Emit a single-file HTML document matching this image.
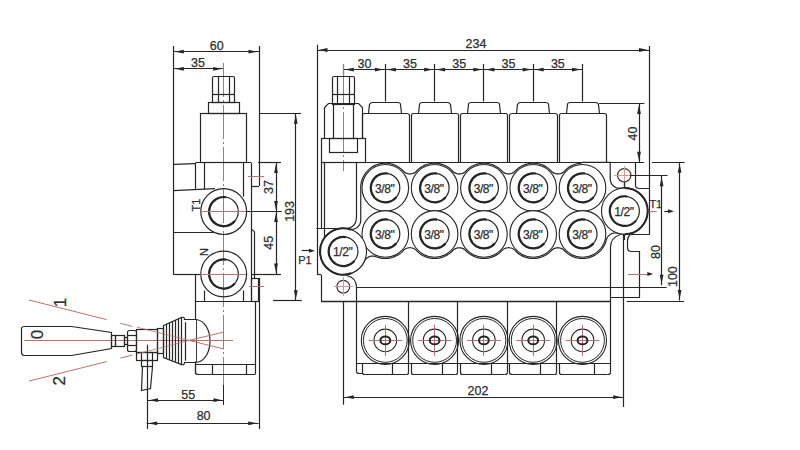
<!DOCTYPE html>
<html><head><meta charset="utf-8"><style>
html,body{margin:0;padding:0;background:#fff;}
svg{display:block;}
text{font-family:"Liberation Sans", sans-serif;stroke:#2e2e2e;stroke-width:0.25px;}
</style></head><body>
<svg width="800" height="450" viewBox="0 0 800 450">
<rect x="0" y="0" width="800" height="450" fill="#fff"/>
<line x1="173.50" y1="46.00" x2="173.50" y2="274.40" stroke="#262626" stroke-width="1.2" />
<line x1="259.50" y1="46.00" x2="259.50" y2="186.00" stroke="#262626" stroke-width="1.2" />
<line x1="259.50" y1="278.00" x2="259.50" y2="429.00" stroke="#262626" stroke-width="1.2" />
<line x1="173.30" y1="51.50" x2="259.00" y2="51.50" stroke="#262626" stroke-width="1.2" />
<path d="M174.80,51.70 L183.80,49.80 L183.80,53.60 Z" fill="#262626"/>
<path d="M257.50,51.70 L248.50,53.60 L248.50,49.80 Z" fill="#262626"/>
<text x="216.70" y="49.60" font-size="12.5" text-anchor="middle" fill="#2e2e2e">60</text>
<line x1="173.30" y1="68.50" x2="223.70" y2="68.50" stroke="#262626" stroke-width="1.2" />
<path d="M174.80,68.80 L183.80,66.90 L183.80,70.70 Z" fill="#262626"/>
<path d="M222.20,68.80 L213.20,70.70 L213.20,66.90 Z" fill="#262626"/>
<text x="198.00" y="66.80" font-size="12.5" text-anchor="middle" fill="#2e2e2e">35</text>
<line x1="223.50" y1="63.00" x2="223.50" y2="395.00" stroke="#b87272" stroke-width="1.0" stroke-dasharray="34 3 2 3"/>
<line x1="223.50" y1="385.00" x2="223.50" y2="405.00" stroke="#262626" stroke-width="1.0" />
<rect x="212.50" y="76.50" width="22.00" height="18.00" rx="1.5" stroke="#262626" stroke-width="1.2" fill="none"/>
<rect x="212.50" y="94.50" width="22.00" height="8.00" rx="0" stroke="#262626" stroke-width="1.2" fill="none"/>
<line x1="218.50" y1="76.00" x2="218.50" y2="102.00" stroke="#262626" stroke-width="1.2" />
<line x1="229.50" y1="76.00" x2="229.50" y2="102.00" stroke="#262626" stroke-width="1.2" />
<rect x="208.50" y="102.50" width="31.00" height="11.00" rx="0" stroke="#262626" stroke-width="1.2" fill="none"/>
<rect x="200.50" y="113.50" width="46.00" height="49.00" rx="0" stroke="#262626" stroke-width="1.2" fill="none"/>
<line x1="259.00" y1="113.50" x2="301.00" y2="113.50" stroke="#262626" stroke-width="1.2" />
<line x1="295.50" y1="113.30" x2="295.50" y2="300.70" stroke="#262626" stroke-width="1.2" />
<path d="M295.80,114.80 L297.70,123.80 L293.90,123.80 Z" fill="#262626"/>
<path d="M295.80,299.20 L293.90,290.20 L297.70,290.20 Z" fill="#262626"/>
<text x="289.20" y="215.86" font-size="12.5" text-anchor="middle" fill="#2e2e2e" transform="rotate(-90 289.20 211.40)">193</text>
<line x1="273.00" y1="300.50" x2="301.70" y2="300.50" stroke="#262626" stroke-width="1.2" />
<line x1="195.60" y1="162.50" x2="251.00" y2="162.50" stroke="#262626" stroke-width="1.2" />
<line x1="173.30" y1="164.40" x2="195.60" y2="163.70" stroke="#262626" stroke-width="1.2" />
<line x1="173.30" y1="190.60" x2="215.00" y2="188.60" stroke="#262626" stroke-width="1.2" />
<line x1="195.50" y1="162.60" x2="195.50" y2="189.40" stroke="#262626" stroke-width="1.2" />
<line x1="204.50" y1="162.60" x2="204.50" y2="189.40" stroke="#262626" stroke-width="1.2" />
<line x1="243.50" y1="162.60" x2="243.50" y2="196.70" stroke="#262626" stroke-width="1.2" />
<line x1="251.50" y1="162.60" x2="251.50" y2="301.40" stroke="#262626" stroke-width="1.2" />
<line x1="251.00" y1="186.50" x2="259.00" y2="186.50" stroke="#262626" stroke-width="1.2" />
<line x1="248.00" y1="176.50" x2="264.00" y2="176.50" stroke="#b87272" stroke-width="1.0" />
<circle cx="223.70" cy="211.60" r="22.90" stroke="#262626" stroke-width="1.2" fill="none"/>
<circle cx="223.70" cy="211.60" r="14.60" stroke="#262626" stroke-width="1.2" fill="none"/>
<path d="M226.24,197.22 A14.6,14.6 0 1 0 234.88,220.98" stroke="#262626" stroke-width="2.2" fill="none"/>
<line x1="202.00" y1="211.50" x2="246.00" y2="211.50" stroke="#b87272" stroke-width="1.0" />
<line x1="246.60" y1="211.50" x2="281.70" y2="211.50" stroke="#262626" stroke-width="1.2" />
<text x="196.50" y="208.93" font-size="11" text-anchor="middle" fill="#2e2e2e" transform="rotate(-90 196.50 205.00)">T1</text>
<line x1="173.30" y1="232.50" x2="214.00" y2="232.50" stroke="#262626" stroke-width="1.2" />
<line x1="173.30" y1="274.50" x2="200.00" y2="274.50" stroke="#262626" stroke-width="1.2" />
<line x1="251.00" y1="229.30" x2="254.20" y2="231.30" stroke="#262626" stroke-width="1.2" />
<line x1="254.50" y1="231.30" x2="254.50" y2="278.00" stroke="#262626" stroke-width="1.2" />
<line x1="258.00" y1="162.50" x2="281.00" y2="162.50" stroke="#262626" stroke-width="1.2" />
<line x1="251.00" y1="274.50" x2="281.00" y2="274.50" stroke="#262626" stroke-width="1.2" />
<line x1="276.50" y1="162.60" x2="276.50" y2="274.00" stroke="#262626" stroke-width="1.2" />
<path d="M276.00,164.10 L277.90,173.10 L274.10,173.10 Z" fill="#262626"/>
<path d="M276.00,210.10 L274.10,201.10 L277.90,201.10 Z" fill="#262626"/>
<path d="M276.00,213.10 L277.90,222.10 L274.10,222.10 Z" fill="#262626"/>
<path d="M276.00,272.50 L274.10,263.50 L277.90,263.50 Z" fill="#262626"/>
<text x="269.00" y="191.46" font-size="12.5" text-anchor="middle" fill="#2e2e2e" transform="rotate(-90 269.00 187.00)">37</text>
<text x="269.00" y="247.16" font-size="12.5" text-anchor="middle" fill="#2e2e2e" transform="rotate(-90 269.00 242.70)">45</text>
<circle cx="223.70" cy="274.00" r="22.90" stroke="#262626" stroke-width="1.2" fill="none"/>
<circle cx="223.70" cy="274.00" r="14.60" stroke="#262626" stroke-width="1.2" fill="none"/>
<path d="M226.24,259.62 A14.6,14.6 0 1 0 234.88,283.38" stroke="#262626" stroke-width="2.2" fill="none"/>
<line x1="202.00" y1="274.50" x2="246.00" y2="274.50" stroke="#b87272" stroke-width="1.0" />
<text x="204.50" y="255.93" font-size="11" text-anchor="middle" fill="#2e2e2e" transform="rotate(-90 204.50 252.00)">N</text>
<line x1="195.50" y1="274.40" x2="195.50" y2="319.50" stroke="#262626" stroke-width="1.2" />
<line x1="204.50" y1="290.50" x2="204.50" y2="301.40" stroke="#262626" stroke-width="1.2" />
<line x1="243.50" y1="290.50" x2="243.50" y2="301.40" stroke="#262626" stroke-width="1.2" />
<rect x="251.50" y="278.50" width="7.00" height="23.00" rx="0" stroke="#262626" stroke-width="1.2" fill="none"/>
<line x1="249.00" y1="286.50" x2="264.00" y2="286.50" stroke="#b87272" stroke-width="1.0" />
<line x1="195.60" y1="301.50" x2="255.80" y2="301.50" stroke="#262626" stroke-width="1.2" />
<line x1="195.50" y1="361.50" x2="195.50" y2="374.00" stroke="#262626" stroke-width="1.2" />
<line x1="255.50" y1="301.40" x2="255.50" y2="374.00" stroke="#262626" stroke-width="1.2" />
<line x1="195.60" y1="364.50" x2="255.80" y2="364.50" stroke="#262626" stroke-width="1.2" />
<path d="M195.5,364.5 L195.5,372.5 Q195.5,374.5 198.5,374.5 L255.5,374.5" stroke="#262626" stroke-width="1.2" fill="none"/>
<line x1="212.50" y1="364.00" x2="212.50" y2="374.50" stroke="#262626" stroke-width="1.2" />
<line x1="246.50" y1="364.00" x2="246.50" y2="374.50" stroke="#262626" stroke-width="1.2" />
<path d="M196.5,319.5 C214.5,322.5 214.5,359.5 196.5,362.5" stroke="#262626" stroke-width="1.2" fill="none"/>
<line x1="196.50" y1="319.50" x2="196.50" y2="362.00" stroke="#262626" stroke-width="0.9" />
<line x1="24.00" y1="340.50" x2="233.00" y2="340.50" stroke="#b87272" stroke-width="1.0" />
<path d="M24.5,326.5 L71.5,326.5 L111.5,332.5 L111.5,348.5 L71.5,355.5 L24.5,355.5 Q21.5,355.5 21.5,352.5 L21.5,328.5 Q21.5,326.5 24.5,326.5 Z" stroke="#262626" stroke-width="1.2" fill="none"/>
<rect x="111.50" y="335.50" width="4.00" height="11.00" rx="0" stroke="#262626" stroke-width="1.2" fill="none"/>
<rect x="115.50" y="335.50" width="9.00" height="11.00" rx="0" stroke="#262626" stroke-width="1.2" fill="none"/>
<rect x="124.50" y="337.50" width="3.00" height="7.00" rx="0" stroke="#262626" stroke-width="1.2" fill="none"/>
<rect x="127.50" y="330.50" width="9.00" height="21.00" rx="2" stroke="#262626" stroke-width="1.2" fill="none"/>
<line x1="127.30" y1="335.50" x2="136.50" y2="335.50" stroke="#262626" stroke-width="1.2" />
<line x1="127.30" y1="345.50" x2="136.50" y2="345.50" stroke="#262626" stroke-width="1.2" />
<rect x="136.50" y="329.50" width="21.00" height="23.00" rx="0" stroke="#262626" stroke-width="1.2" fill="none"/>
<rect x="157.50" y="328.50" width="6.00" height="25.00" rx="0" stroke="#262626" stroke-width="1.2" fill="none"/>
<path d="M163.50,325.50 L181.50,317.50 L181.50,364.50 L163.50,357.50 Z" stroke="#262626" stroke-width="1.2" fill="none"/>
<line x1="166.50" y1="323.88" x2="166.50" y2="358.20" stroke="#262626" stroke-width="1.2" />
<line x1="169.50" y1="322.57" x2="169.50" y2="359.40" stroke="#262626" stroke-width="1.2" />
<line x1="172.50" y1="321.25" x2="172.50" y2="360.60" stroke="#262626" stroke-width="1.2" />
<line x1="175.50" y1="319.93" x2="175.50" y2="361.80" stroke="#262626" stroke-width="1.2" />
<line x1="178.50" y1="318.62" x2="178.50" y2="363.00" stroke="#262626" stroke-width="1.2" />
<path d="M181.5,317.5 Q184.5,316.5 184.5,319.5 L196.5,319.5" stroke="#262626" stroke-width="1.2" fill="none"/>
<path d="M181.5,364.5 Q184.5,365.5 184.5,362.5 L196.5,362.5" stroke="#262626" stroke-width="1.2" fill="none"/>
<line x1="185.50" y1="322.30" x2="185.50" y2="360.60" stroke="#262626" stroke-width="1.2" />
<rect x="136.50" y="352.50" width="21.00" height="8.00" rx="0" stroke="#262626" stroke-width="1.2" fill="none"/>
<line x1="141.50" y1="352.70" x2="141.50" y2="360.20" stroke="#262626" stroke-width="1.2" />
<line x1="152.50" y1="352.70" x2="152.50" y2="360.20" stroke="#262626" stroke-width="1.2" />
<rect x="141.50" y="360.50" width="11.00" height="6.00" rx="0" stroke="#262626" stroke-width="1.2" fill="none"/>
<path d="M142.50,366.50 L141.50,390.50 L150.50,388.50 L152.50,366.50" stroke="#262626" stroke-width="1.2" fill="none"/>
<line x1="147.50" y1="344.70" x2="147.50" y2="366.00" stroke="#262626" stroke-width="1.2" />
<line x1="28.90" y1="300.00" x2="106.70" y2="319.60" stroke="#b87272" stroke-width="1.0" />
<line x1="28.90" y1="381.10" x2="106.70" y2="361.60" stroke="#b87272" stroke-width="1.0" />
<line x1="120.30" y1="323.30" x2="132.30" y2="326.40" stroke="#b87272" stroke-width="1.0" />
<line x1="120.30" y1="358.10" x2="132.30" y2="355.10" stroke="#b87272" stroke-width="1.0" />
<line x1="137.00" y1="327.20" x2="189.00" y2="340.40" stroke="#b87272" stroke-width="0.8" />
<line x1="137.00" y1="354.00" x2="189.00" y2="340.40" stroke="#b87272" stroke-width="0.8" />
<line x1="189.00" y1="340.40" x2="224.00" y2="332.00" stroke="#b87272" stroke-width="1.0" />
<line x1="189.00" y1="340.40" x2="224.00" y2="349.00" stroke="#b87272" stroke-width="1.0" />
<text x="36.90" y="340.47" font-size="17" text-anchor="middle" fill="#2e2e2e" transform="rotate(-90 36.90 334.40)">0</text>
<text x="59.70" y="308.57" font-size="17" text-anchor="middle" fill="#2e2e2e" transform="rotate(-90 59.70 302.50)">1</text>
<text x="59.20" y="386.77" font-size="17" text-anchor="middle" fill="#2e2e2e" transform="rotate(-90 59.20 380.70)">2</text>
<line x1="147.50" y1="366.00" x2="147.50" y2="429.00" stroke="#262626" stroke-width="1.2" />
<line x1="147.50" y1="400.50" x2="224.00" y2="400.50" stroke="#262626" stroke-width="1.2" />
<path d="M149.00,400.20 L158.00,398.30 L158.00,402.10 Z" fill="#262626"/>
<path d="M222.50,400.20 L213.50,402.10 L213.50,398.30 Z" fill="#262626"/>
<text x="188.30" y="398.60" font-size="12.5" text-anchor="middle" fill="#2e2e2e">55</text>
<line x1="146.70" y1="423.50" x2="258.70" y2="423.50" stroke="#262626" stroke-width="1.2" />
<path d="M148.20,423.30 L157.20,421.40 L157.20,425.20 Z" fill="#262626"/>
<path d="M257.20,423.30 L248.20,425.20 L248.20,421.40 Z" fill="#262626"/>
<text x="203.60" y="420.00" font-size="12.5" text-anchor="middle" fill="#2e2e2e">80</text>
<line x1="317.50" y1="44.70" x2="317.50" y2="274.70" stroke="#262626" stroke-width="1.2" />
<line x1="649.50" y1="46.00" x2="649.50" y2="188.30" stroke="#262626" stroke-width="1.2" />
<line x1="317.00" y1="50.50" x2="649.50" y2="50.50" stroke="#262626" stroke-width="1.2" />
<path d="M318.50,50.00 L327.50,48.10 L327.50,51.90 Z" fill="#262626"/>
<path d="M648.00,50.00 L639.00,51.90 L639.00,48.10 Z" fill="#262626"/>
<text x="476.00" y="48.00" font-size="12.5" text-anchor="middle" fill="#2e2e2e">234</text>
<line x1="343.30" y1="69.50" x2="582.10" y2="69.50" stroke="#262626" stroke-width="1.2" />
<line x1="343.50" y1="64.00" x2="343.50" y2="76.00" stroke="#262626" stroke-width="1.2" />
<path d="M344.80,69.60 L353.80,67.70 L353.80,71.50 Z" fill="#262626"/>
<line x1="385.50" y1="64.00" x2="385.50" y2="101.50" stroke="#262626" stroke-width="1.2" />
<path d="M383.80,69.60 L374.80,71.50 L374.80,67.70 Z" fill="#262626"/>
<path d="M386.80,69.60 L395.80,67.70 L395.80,71.50 Z" fill="#262626"/>
<line x1="434.50" y1="64.00" x2="434.50" y2="101.50" stroke="#262626" stroke-width="1.2" />
<path d="M433.10,69.60 L424.10,71.50 L424.10,67.70 Z" fill="#262626"/>
<path d="M436.10,69.60 L445.10,67.70 L445.10,71.50 Z" fill="#262626"/>
<line x1="483.50" y1="64.00" x2="483.50" y2="101.50" stroke="#262626" stroke-width="1.2" />
<path d="M482.40,69.60 L473.40,71.50 L473.40,67.70 Z" fill="#262626"/>
<path d="M485.40,69.60 L494.40,67.70 L494.40,71.50 Z" fill="#262626"/>
<line x1="533.50" y1="64.00" x2="533.50" y2="101.50" stroke="#262626" stroke-width="1.2" />
<path d="M531.70,69.60 L522.70,71.50 L522.70,67.70 Z" fill="#262626"/>
<path d="M534.70,69.60 L543.70,67.70 L543.70,71.50 Z" fill="#262626"/>
<line x1="582.50" y1="64.00" x2="582.50" y2="101.50" stroke="#262626" stroke-width="1.2" />
<path d="M581.00,69.60 L572.00,71.50 L572.00,67.70 Z" fill="#262626"/>
<text x="364.50" y="67.70" font-size="12.5" text-anchor="middle" fill="#2e2e2e">30</text>
<text x="409.95" y="67.70" font-size="12.5" text-anchor="middle" fill="#2e2e2e">35</text>
<text x="459.25" y="67.70" font-size="12.5" text-anchor="middle" fill="#2e2e2e">35</text>
<text x="508.55" y="67.70" font-size="12.5" text-anchor="middle" fill="#2e2e2e">35</text>
<text x="557.85" y="67.70" font-size="12.5" text-anchor="middle" fill="#2e2e2e">35</text>
<line x1="343.50" y1="64.00" x2="343.50" y2="171.00" stroke="#b87272" stroke-width="1.0" stroke-dasharray="40 3 2 3"/>
<rect x="332.50" y="76.50" width="22.00" height="18.00" rx="1.5" stroke="#262626" stroke-width="1.2" fill="none"/>
<rect x="332.50" y="94.50" width="22.00" height="10.00" rx="0" stroke="#262626" stroke-width="1.2" fill="none"/>
<line x1="337.50" y1="76.00" x2="337.50" y2="104.20" stroke="#262626" stroke-width="1.2" />
<line x1="349.50" y1="76.00" x2="349.50" y2="104.20" stroke="#262626" stroke-width="1.2" />
<path d="M324.50,138.50 L324.50,107.50 L328.50,103.50 L358.50,103.50 L362.50,107.50 L362.50,138.50" stroke="#262626" stroke-width="1.2" fill="none"/>
<line x1="333.50" y1="104.00" x2="333.50" y2="138.00" stroke="#262626" stroke-width="1.2" />
<line x1="353.50" y1="104.00" x2="353.50" y2="138.00" stroke="#262626" stroke-width="1.2" />
<rect x="321.50" y="138.50" width="44.00" height="24.00" rx="0" stroke="#262626" stroke-width="1.2" fill="none"/>
<rect x="329.50" y="138.50" width="28.00" height="14.00" rx="0" stroke="#262626" stroke-width="1.2" fill="none"/>
<path d="M368.5,113.5 L369.5,104.5 Q370.5,102.5 372.5,102.5 L397.5,102.5 Q400.5,102.5 400.5,104.5 L401.5,113.5" stroke="#262626" stroke-width="1.2" fill="none"/>
<path d="M362.5,138.5 L362.5,115.5 Q362.5,113.5 364.5,113.5 L406.5,113.5 Q409.5,113.5 409.5,115.5 L409.5,162.5" stroke="#262626" stroke-width="1.2" fill="none"/>
<path d="M418.5,113.5 L419.5,104.5 Q419.5,102.5 422.5,102.5 L447.5,102.5 Q449.5,102.5 450.5,104.5 L451.5,113.5" stroke="#262626" stroke-width="1.2" fill="none"/>
<path d="M411.5,162.5 L411.5,115.5 Q411.5,113.5 413.5,113.5 L456.5,113.5 Q458.5,113.5 458.5,115.5 L458.5,162.5" stroke="#262626" stroke-width="1.2" fill="none"/>
<path d="M467.5,113.5 L468.5,104.5 Q468.5,102.5 471.5,102.5 L496.5,102.5 Q499.5,102.5 499.5,104.5 L500.5,113.5" stroke="#262626" stroke-width="1.2" fill="none"/>
<path d="M460.5,162.5 L460.5,115.5 Q460.5,113.5 462.5,113.5 L505.5,113.5 Q507.5,113.5 507.5,115.5 L507.5,162.5" stroke="#262626" stroke-width="1.2" fill="none"/>
<path d="M516.5,113.5 L517.5,104.5 Q518.5,102.5 520.5,102.5 L545.5,102.5 Q548.5,102.5 548.5,104.5 L549.5,113.5" stroke="#262626" stroke-width="1.2" fill="none"/>
<path d="M509.5,162.5 L509.5,115.5 Q509.5,113.5 512.5,113.5 L554.5,113.5 Q557.5,113.5 557.5,115.5 L557.5,162.5" stroke="#262626" stroke-width="1.2" fill="none"/>
<path d="M566.5,113.5 L567.5,104.5 Q567.5,102.5 570.5,102.5 L595.5,102.5 Q597.5,102.5 598.5,104.5 L599.5,113.5" stroke="#262626" stroke-width="1.2" fill="none"/>
<path d="M559.5,162.5 L559.5,115.5 Q559.5,113.5 561.5,113.5 L604.5,113.5 Q606.5,113.5 606.5,115.5 L606.5,162.5" stroke="#262626" stroke-width="1.2" fill="none"/>
<line x1="599.00" y1="103.50" x2="644.50" y2="103.50" stroke="#262626" stroke-width="1.2" />
<line x1="639.50" y1="103.60" x2="639.50" y2="162.30" stroke="#262626" stroke-width="1.2" />
<path d="M639.00,105.10 L640.90,114.10 L637.10,114.10 Z" fill="#262626"/>
<path d="M639.00,160.80 L637.10,151.80 L640.90,151.80 Z" fill="#262626"/>
<text x="632.30" y="138.06" font-size="12.5" text-anchor="middle" fill="#2e2e2e" transform="rotate(-90 632.30 133.60)">40</text>
<line x1="321.00" y1="162.50" x2="644.20" y2="162.50" stroke="#262626" stroke-width="1.2" />
<line x1="652.00" y1="162.50" x2="684.70" y2="162.50" stroke="#262626" stroke-width="1.2" />
<line x1="321.50" y1="162.30" x2="321.50" y2="228.90" stroke="#262626" stroke-width="1.2" />
<line x1="324.50" y1="162.30" x2="324.50" y2="237.50" stroke="#262626" stroke-width="1.2" />
<path d="M356.5,162.5 L356.5,216.5 Q356.5,228.5 344.5,228.5 L316.5,228.5" stroke="#262626" stroke-width="1.2" fill="none"/>
<line x1="317.00" y1="274.50" x2="321.00" y2="274.50" stroke="#262626" stroke-width="1.2" />
<line x1="321.50" y1="274.70" x2="321.50" y2="301.00" stroke="#262626" stroke-width="1.2" />
<line x1="321.00" y1="301.50" x2="610.40" y2="301.50" stroke="#262626" stroke-width="1.5" />
<line x1="626.70" y1="301.50" x2="684.00" y2="301.50" stroke="#262626" stroke-width="1.2" />
<circle cx="343.30" cy="286.70" r="6.40" stroke="#4a2c2c" stroke-width="1.2" fill="none"/>
<line x1="334.00" y1="286.50" x2="353.00" y2="286.50" stroke="#cf9a9a" stroke-width="1.0" />
<line x1="343.50" y1="277.00" x2="343.50" y2="296.00" stroke="#cf9a9a" stroke-width="1.0" />
<line x1="343.50" y1="301.00" x2="343.50" y2="404.70" stroke="#262626" stroke-width="1.2" />
<line x1="343.30" y1="397.50" x2="623.70" y2="397.50" stroke="#262626" stroke-width="1.2" />
<path d="M344.80,397.20 L353.80,395.30 L353.80,399.10 Z" fill="#262626"/>
<path d="M622.20,397.20 L613.20,399.10 L613.20,395.30 Z" fill="#262626"/>
<text x="478.00" y="394.50" font-size="12.5" text-anchor="middle" fill="#2e2e2e">202</text>
<path d="M346.5,275.5 Q356.5,277.5 356.5,287.5" stroke="#262626" stroke-width="1.2" fill="none"/>
<line x1="356.80" y1="287.50" x2="666.70" y2="287.50" stroke="#262626" stroke-width="1.2" />
<path d="M635.5,162.5 L635.5,185.5 Q635.5,188.5 639.5,188.5 L649.5,188.5 L649.5,234.5 L630.5,234.5" stroke="#262626" stroke-width="1.2" fill="none"/>
<path d="M630.5,234.5 Q627.5,236.5 627.5,240.5 L627.5,247.5 Q627.5,251.5 631.5,251.5 L639.5,251.5 L639.5,297.5 L610.5,297.5" stroke="#262626" stroke-width="1.2" fill="none"/>
<path d="M610.5,287.5 L610.5,247.5 Q610.5,237.5 620.5,234.5" stroke="#262626" stroke-width="1.2" fill="none"/>
<line x1="623.50" y1="234.00" x2="623.50" y2="407.00" stroke="#262626" stroke-width="1.2" />
<circle cx="624.20" cy="175.30" r="6.70" stroke="#4a2c2c" stroke-width="1.2" fill="none"/>
<line x1="614.00" y1="175.50" x2="634.00" y2="175.50" stroke="#cf9a9a" stroke-width="1.0" />
<line x1="624.50" y1="166.00" x2="624.50" y2="185.00" stroke="#cf9a9a" stroke-width="1.0" />
<line x1="624.50" y1="182.00" x2="624.50" y2="189.00" stroke="#262626" stroke-width="1.2" />
<line x1="630.00" y1="175.50" x2="667.50" y2="175.50" stroke="#262626" stroke-width="1.2" />
<line x1="661.50" y1="175.80" x2="661.50" y2="285.30" stroke="#262626" stroke-width="1.2" />
<path d="M661.60,177.30 L663.50,186.30 L659.70,186.30 Z" fill="#262626"/>
<path d="M661.60,283.80 L659.70,274.80 L663.50,274.80 Z" fill="#262626"/>
<text x="656.00" y="256.46" font-size="12.5" text-anchor="middle" fill="#2e2e2e" transform="rotate(-90 656.00 252.00)">80</text>
<line x1="679.50" y1="162.30" x2="679.50" y2="300.50" stroke="#262626" stroke-width="1.2" />
<path d="M679.60,163.80 L681.50,172.80 L677.70,172.80 Z" fill="#262626"/>
<path d="M679.60,299.00 L677.70,290.00 L681.50,290.00 Z" fill="#262626"/>
<text x="672.80" y="281.06" font-size="12.5" text-anchor="middle" fill="#2e2e2e" transform="rotate(-90 672.80 276.60)">100</text>
<text x="655.80" y="207.50" font-size="11" text-anchor="middle" fill="#2e2e2e">T1</text>
<line x1="630.00" y1="211.50" x2="656.70" y2="211.50" stroke="#b87272" stroke-width="1.0" />
<line x1="664.30" y1="211.50" x2="668.00" y2="211.50" stroke="#262626" stroke-width="1.2" />
<path d="M674.00,211.30 L668.00,213.30 L668.00,209.30 Z" fill="#262626"/>
<line x1="628.00" y1="274.50" x2="647.50" y2="274.50" stroke="#b87272" stroke-width="1.0" />
<path d="M653.30,274.00 L647.30,276.00 L647.30,272.00 Z" fill="#262626"/>
<line x1="301.70" y1="250.50" x2="309.00" y2="250.50" stroke="#262626" stroke-width="1.2" />
<path d="M315.00,250.70 L309.00,252.70 L309.00,248.70 Z" fill="#262626"/>
<text x="305.00" y="264.00" font-size="11" text-anchor="middle" fill="#2e2e2e">P1</text>
<path d="M343.94,274.75 L340.81,274.62 L340.69,274.50 L339.94,274.50 L339.81,274.38 L339.19,274.38 L339.06,274.25 L337.94,274.12 L337.81,274.00 L337.44,274.00 L336.94,273.75 L336.56,273.75 L336.44,273.62 L335.06,273.25 L333.56,272.50 L333.31,272.50 L332.56,272.12 L332.31,271.88 L331.44,271.50 L328.44,269.38 L326.50,267.56 L326.50,267.44 L325.00,265.81 L323.50,263.69 L322.00,260.81 L322.00,260.56 L321.50,259.56 L321.12,258.19 L321.00,258.06 L321.00,257.69 L320.62,256.69 L320.50,255.56 L320.38,255.44 L320.25,253.56 L320.12,253.44 L320.12,249.56 L320.25,249.44 L320.38,247.56 L320.50,247.44 L320.50,246.94 L320.62,246.81 L320.62,246.31 L321.00,245.31 L321.00,244.94 L321.12,244.81 L321.50,243.44 L322.00,242.44 L322.00,242.19 L323.12,239.94 L323.38,239.69 L323.50,239.31 L324.25,238.19 L325.50,236.69 L325.50,236.56 L326.88,235.06 L328.44,233.62 L328.56,233.62 L329.56,232.75 L331.44,231.50 L332.31,231.12 L332.56,230.88 L333.31,230.50 L333.56,230.50 L334.44,230.00 L334.69,230.00 L335.06,229.75 L335.69,229.62 L336.56,229.25 L336.94,229.25 L337.94,228.88 L339.06,228.75 L339.19,228.62 L340.69,228.50 L340.81,228.38 L342.44,228.38 L342.56,228.25 L345.81,228.38 L345.94,228.50 L346.69,228.50 L346.81,228.62 L347.44,228.62 L347.56,228.75 L348.69,228.88 L348.81,229.00 L349.81,229.12 L349.94,229.25 L351.19,229.25 L351.31,229.38 L353.69,229.12 L353.81,229.00 L354.19,229.00 L354.31,228.88 L354.94,228.75 L356.81,227.75 L357.44,227.25 L359.12,225.44 L360.12,223.56 L360.12,223.31 L360.38,222.81 L360.50,221.81 L360.62,221.69 L360.62,220.44 L360.75,220.31 L360.75,185.56 L360.88,185.44 L360.88,184.44 L361.00,184.31 L361.12,182.94 L361.25,182.81 L361.62,180.94 L362.12,179.69 L362.25,179.06 L363.62,176.06 L363.88,175.81 L364.12,175.19 L365.38,173.31 L365.75,172.94 L366.12,172.31 L366.88,171.56 L366.88,171.44 L369.81,168.62 L372.69,166.62 L375.06,165.38 L375.31,165.38 L375.94,165.00 L376.19,165.00 L376.56,164.75 L376.81,164.75 L378.44,164.12 L378.81,164.12 L378.94,164.00 L379.31,164.00 L379.44,163.88 L379.81,163.88 L380.44,163.62 L381.06,163.62 L381.19,163.50 L381.81,163.50 L381.94,163.38 L382.94,163.38 L383.06,163.25 L387.56,163.25 L387.69,163.38 L388.69,163.38 L388.81,163.50 L389.44,163.50 L389.56,163.62 L390.69,163.75 L390.81,163.88 L392.19,164.12 L393.44,164.62 L393.69,164.62 L394.06,164.88 L394.69,165.00 L395.56,165.50 L395.81,165.50 L396.81,166.00 L397.06,166.25 L397.69,166.50 L399.81,167.88 L400.81,168.75 L400.94,168.75 L401.81,169.62 L401.94,169.62 L404.31,172.00 L405.19,172.62 L406.69,173.38 L407.31,173.50 L407.44,173.62 L408.44,173.75 L408.56,173.88 L409.81,173.88 L409.94,174.00 L410.06,173.88 L411.31,173.88 L411.44,173.75 L412.44,173.62 L412.56,173.50 L413.19,173.38 L414.69,172.62 L415.56,172.00 L418.81,168.88 L418.94,168.88 L420.44,167.62 L421.56,167.00 L422.19,166.50 L424.94,165.12 L425.19,165.12 L426.19,164.62 L426.44,164.62 L427.31,164.25 L427.69,164.25 L428.19,164.00 L429.06,163.88 L429.19,163.75 L429.69,163.75 L429.81,163.62 L430.31,163.62 L430.44,163.50 L431.19,163.50 L431.31,163.38 L432.19,163.38 L432.31,163.25 L436.94,163.25 L437.06,163.38 L437.94,163.38 L438.06,163.50 L438.69,163.50 L438.81,163.62 L439.44,163.62 L440.06,163.88 L440.56,163.88 L441.06,164.12 L441.44,164.12 L441.94,164.38 L443.31,164.75 L444.31,165.25 L444.56,165.25 L446.56,166.25 L446.81,166.50 L447.19,166.62 L447.44,166.88 L447.81,167.00 L448.94,167.75 L450.69,169.25 L450.81,169.25 L453.56,172.00 L454.44,172.62 L455.94,173.38 L456.19,173.38 L456.69,173.62 L457.69,173.75 L457.81,173.88 L459.06,173.88 L459.31,174.00 L459.44,173.88 L460.69,173.88 L460.81,173.75 L461.81,173.62 L461.94,173.50 L462.56,173.38 L464.06,172.62 L464.94,172.00 L467.69,169.25 L467.81,169.25 L469.56,167.75 L470.69,167.00 L471.06,166.88 L471.31,166.62 L471.69,166.50 L471.94,166.25 L475.19,164.75 L475.81,164.62 L477.06,164.12 L477.44,164.12 L477.94,163.88 L478.44,163.88 L479.06,163.62 L479.69,163.62 L479.81,163.50 L480.44,163.50 L480.56,163.38 L481.44,163.38 L481.56,163.25 L486.19,163.25 L486.31,163.38 L488.06,163.50 L488.19,163.62 L488.69,163.62 L488.81,163.75 L489.31,163.75 L489.44,163.88 L490.31,164.00 L490.81,164.25 L491.19,164.25 L492.06,164.62 L492.31,164.62 L493.31,165.12 L493.56,165.12 L496.31,166.50 L496.94,167.00 L498.06,167.62 L499.56,168.88 L499.69,168.88 L502.94,172.00 L503.81,172.62 L505.31,173.38 L505.56,173.38 L506.06,173.62 L507.06,173.75 L507.19,173.88 L508.44,173.88 L508.56,174.00 L508.69,173.88 L509.94,173.88 L510.06,173.75 L511.06,173.62 L511.19,173.50 L511.81,173.38 L513.31,172.62 L514.19,172.00 L516.56,169.62 L516.69,169.62 L517.56,168.75 L517.69,168.75 L518.69,167.88 L520.81,166.50 L521.44,166.25 L521.69,166.00 L522.69,165.50 L522.94,165.50 L523.81,165.00 L524.44,164.88 L524.81,164.62 L525.06,164.62 L526.31,164.12 L526.69,164.12 L526.81,164.00 L527.19,164.00 L527.81,163.75 L528.31,163.75 L528.44,163.62 L528.94,163.62 L529.06,163.50 L529.69,163.50 L529.81,163.38 L530.81,163.38 L530.94,163.25 L535.44,163.25 L535.56,163.38 L536.56,163.38 L536.69,163.50 L538.06,163.62 L538.19,163.75 L540.06,164.12 L541.31,164.62 L541.94,164.75 L543.19,165.38 L543.44,165.38 L545.81,166.62 L548.69,168.62 L552.19,172.00 L553.06,172.62 L554.56,173.38 L554.81,173.38 L555.31,173.62 L556.31,173.75 L556.44,173.88 L557.69,173.88 L557.94,174.00 L558.06,173.88 L559.31,173.88 L559.44,173.75 L560.44,173.62 L560.56,173.50 L561.19,173.38 L562.69,172.62 L563.56,172.00 L566.56,169.00 L566.69,169.00 L568.19,167.75 L570.31,166.38 L572.56,165.25 L572.81,165.25 L573.44,164.88 L573.69,164.88 L574.44,164.50 L574.69,164.50 L575.19,164.25 L575.56,164.25 L576.06,164.00 L580.69,163.12 L580.81,163.00 L581.44,162.88 L582.56,162.25 L610.19,162.25 L610.25,179.19 L610.38,179.31 L610.38,180.56 L610.50,180.69 L610.50,181.19 L610.62,181.31 L610.62,181.69 L610.88,182.19 L610.88,182.44 L611.62,183.94 L612.25,184.81 L614.19,186.62 L616.06,187.62 L616.31,187.62 L616.81,187.88 L617.81,188.00 L617.94,188.12 L619.19,188.12 L619.31,188.25 L619.56,188.12 L621.81,188.00 L621.94,187.88 L623.56,187.88 L623.69,187.75 L626.81,187.88 L626.94,188.00 L628.56,188.12 L628.69,188.25 L629.19,188.25 L629.31,188.38 L630.69,188.62 L630.81,188.75 L631.56,188.88 L632.31,189.25 L632.94,189.38 L635.81,190.75 L636.06,191.00 L637.06,191.50 L638.94,192.88 L639.56,193.50 L639.69,193.50 L642.00,195.81 L642.00,195.94 L643.62,197.94 L644.25,199.06 L644.50,199.31 L645.75,201.81 L645.75,202.06 L646.00,202.44 L646.00,202.69 L646.25,203.06 L646.38,203.69 L646.75,204.56 L646.75,204.94 L646.88,205.06 L646.88,205.44 L647.12,206.06 L647.25,207.31 L647.38,207.44 L647.38,208.19 L647.50,208.31 L647.50,209.56 L647.62,209.69 L647.62,212.31 L647.50,212.44 L647.50,213.69 L647.38,213.81 L647.25,215.31 L647.12,215.44 L647.12,215.94 L647.00,216.06 L647.00,216.44 L646.75,217.06 L646.75,217.44 L646.62,217.56 L646.25,218.94 L645.75,219.94 L645.75,220.19 L644.12,223.31 L642.00,226.19 L639.69,228.50 L639.56,228.50 L638.94,229.12 L637.06,230.50 L633.56,232.38 L633.31,232.38 L632.94,232.62 L632.31,232.75 L631.56,233.12 L631.19,233.12 L630.69,233.38 L630.31,233.38 L630.19,233.50 L629.81,233.50 L629.19,233.75 L628.69,233.75 L628.56,233.88 L626.94,234.00 L626.81,234.12 L625.19,234.12 L625.06,234.25 L621.94,234.12 L621.81,234.00 L620.94,234.00 L620.81,233.88 L619.56,233.75 L619.44,233.62 L619.06,233.62 L618.44,233.38 L617.56,233.25 L617.44,233.12 L616.94,233.12 L616.81,233.00 L615.56,233.00 L615.44,232.88 L615.19,232.88 L615.06,233.00 L613.81,233.00 L613.69,233.12 L612.69,233.25 L612.56,233.38 L611.94,233.50 L610.44,234.25 L609.56,234.88 L608.12,236.31 L607.50,237.19 L606.62,238.94 L605.62,242.44 L604.00,245.94 L602.12,248.81 L600.88,250.19 L600.88,250.31 L598.06,253.00 L597.94,253.00 L596.94,253.88 L594.81,255.25 L591.44,256.88 L591.19,256.88 L589.19,257.62 L587.81,257.88 L587.69,258.00 L586.44,258.12 L586.31,258.25 L585.56,258.25 L585.44,258.38 L584.31,258.38 L584.19,258.50 L580.81,258.50 L580.69,258.38 L579.56,258.38 L579.44,258.25 L578.69,258.25 L578.56,258.12 L577.31,258.00 L577.19,257.88 L575.81,257.62 L575.69,257.50 L573.56,256.88 L570.19,255.25 L568.06,253.88 L566.31,252.38 L566.19,252.38 L563.56,249.75 L562.69,249.12 L561.19,248.38 L560.94,248.38 L560.44,248.12 L559.44,248.00 L559.31,247.88 L558.06,247.88 L557.81,247.75 L557.69,247.88 L556.44,247.88 L556.31,248.00 L555.31,248.12 L555.19,248.25 L554.56,248.38 L553.06,249.12 L552.19,249.75 L550.19,251.75 L550.06,251.75 L549.06,252.75 L548.94,252.75 L547.81,253.75 L545.94,255.00 L545.31,255.25 L545.06,255.50 L541.81,257.00 L541.56,257.00 L540.31,257.50 L539.94,257.50 L539.44,257.75 L539.06,257.75 L538.94,257.88 L538.44,257.88 L537.81,258.12 L537.19,258.12 L537.06,258.25 L536.31,258.25 L536.19,258.38 L535.06,258.38 L534.94,258.50 L531.56,258.50 L531.44,258.38 L530.19,258.38 L530.06,258.25 L529.31,258.25 L529.19,258.12 L528.69,258.12 L528.56,258.00 L528.06,258.00 L527.94,257.88 L526.94,257.75 L526.81,257.62 L526.06,257.50 L525.56,257.25 L524.94,257.12 L524.56,256.88 L523.94,256.75 L523.31,256.38 L523.06,256.38 L520.06,254.75 L517.94,253.25 L514.19,249.62 L513.31,249.00 L511.81,248.25 L511.56,248.25 L511.06,248.00 L510.06,247.88 L509.94,247.75 L508.69,247.75 L508.56,247.62 L508.44,247.75 L507.19,247.75 L507.06,247.88 L506.06,248.00 L505.94,248.12 L505.31,248.25 L503.81,249.00 L502.94,249.62 L500.06,252.50 L499.94,252.50 L499.31,253.12 L497.81,254.25 L497.06,254.62 L496.44,255.12 L495.56,255.50 L495.31,255.75 L494.31,256.25 L494.06,256.25 L493.44,256.62 L493.19,256.62 L492.81,256.88 L492.19,257.00 L491.44,257.38 L491.06,257.38 L490.56,257.62 L489.69,257.75 L489.06,258.00 L488.56,258.00 L488.44,258.12 L486.94,258.25 L486.81,258.38 L485.69,258.38 L485.56,258.50 L482.19,258.50 L482.06,258.38 L480.94,258.38 L480.81,258.25 L480.06,258.25 L479.94,258.12 L478.69,258.00 L478.56,257.88 L477.19,257.62 L476.31,257.25 L475.31,257.00 L474.31,256.50 L474.06,256.50 L471.81,255.38 L471.56,255.12 L471.19,255.00 L470.94,254.75 L469.81,254.12 L468.31,252.88 L468.19,252.88 L467.44,252.12 L467.31,252.12 L464.94,249.75 L464.06,249.12 L462.56,248.38 L461.94,248.25 L461.81,248.12 L460.81,248.00 L460.69,247.88 L459.44,247.88 L459.19,247.75 L459.06,247.88 L457.81,247.88 L457.69,248.00 L456.69,248.12 L456.56,248.25 L455.94,248.38 L454.44,249.12 L453.56,249.75 L451.19,252.12 L451.06,252.12 L450.31,252.88 L450.19,252.88 L448.69,254.12 L447.56,254.75 L447.31,255.00 L446.94,255.12 L446.69,255.38 L444.44,256.50 L444.19,256.50 L443.19,257.00 L442.94,257.00 L441.31,257.62 L440.94,257.62 L440.81,257.75 L440.44,257.75 L439.81,258.00 L439.31,258.00 L439.19,258.12 L437.69,258.25 L437.56,258.38 L436.44,258.38 L436.31,258.50 L432.94,258.50 L432.81,258.38 L431.69,258.38 L431.56,258.25 L430.06,258.12 L429.94,258.00 L429.44,258.00 L429.31,257.88 L427.94,257.62 L427.44,257.38 L426.69,257.25 L426.31,257.00 L425.69,256.88 L424.44,256.25 L424.19,256.25 L423.19,255.75 L422.94,255.50 L422.06,255.12 L419.19,253.12 L415.56,249.62 L414.69,249.00 L413.19,248.25 L412.94,248.25 L412.44,248.00 L411.44,247.88 L411.31,247.75 L410.06,247.75 L409.94,247.62 L409.81,247.75 L408.56,247.75 L408.44,247.88 L407.44,248.00 L407.31,248.12 L406.69,248.25 L405.19,249.00 L404.31,249.62 L401.31,252.62 L398.44,254.75 L397.19,255.38 L396.94,255.62 L394.56,256.75 L393.94,256.88 L393.56,257.12 L393.31,257.12 L392.44,257.50 L391.19,257.75 L391.06,257.88 L390.56,257.88 L390.44,258.00 L389.94,258.00 L389.81,258.12 L389.31,258.12 L389.19,258.25 L388.44,258.25 L388.31,258.38 L387.06,258.38 L386.94,258.50 L383.56,258.50 L383.44,258.38 L382.31,258.38 L382.19,258.25 L381.44,258.25 L381.31,258.12 L380.69,258.12 L380.06,257.88 L379.56,257.88 L379.44,257.75 L379.06,257.75 L378.56,257.50 L378.19,257.50 L377.69,257.25 L376.69,257.00 L376.31,256.75 L376.06,256.75 L375.19,256.38 L374.19,256.25 L374.06,256.12 L372.81,256.12 L372.69,256.00 L372.44,256.12 L371.19,256.12 L371.06,256.25 L370.56,256.25 L370.44,256.38 L370.06,256.38 L369.94,256.50 L369.31,256.62 L367.44,257.62 L365.38,259.56 L364.75,260.44 L363.25,263.44 L362.00,265.31 L361.50,265.81 L361.00,266.56 L358.31,269.25 L358.19,269.25 L356.69,270.50 L355.56,271.25 L355.19,271.38 L354.94,271.62 L352.44,272.88 L352.19,272.88 L351.19,273.38 L350.94,273.38 L350.06,273.75 L349.69,273.75 L349.19,274.00 L348.19,274.12 L348.06,274.25 L347.56,274.25 L347.44,274.38 L345.94,274.50 L345.81,274.62 L344.06,274.62 L343.94,274.75 Z" stroke="#262626" stroke-width="1.2" fill="none"/>
<circle cx="385.30" cy="187.80" r="23.30" stroke="#262626" stroke-width="1.1" fill="#fff"/>
<circle cx="385.30" cy="187.80" r="14.50" stroke="#262626" stroke-width="1.2" fill="none"/>
<path d="M387.82,173.52 A14.50,14.50 0 1 0 396.41,197.12" stroke="#262626" stroke-width="2.2" fill="none"/>
<text x="384.70" y="192.68" font-size="12" text-anchor="middle" fill="#2e2e2e" letter-spacing="-0.4">3/8&quot;</text>
<circle cx="434.60" cy="187.80" r="23.30" stroke="#262626" stroke-width="1.1" fill="#fff"/>
<circle cx="434.60" cy="187.80" r="14.50" stroke="#262626" stroke-width="1.2" fill="none"/>
<path d="M437.12,173.52 A14.50,14.50 0 1 0 445.71,197.12" stroke="#262626" stroke-width="2.2" fill="none"/>
<text x="434.00" y="192.68" font-size="12" text-anchor="middle" fill="#2e2e2e" letter-spacing="-0.4">3/8&quot;</text>
<circle cx="483.90" cy="187.80" r="23.30" stroke="#262626" stroke-width="1.1" fill="#fff"/>
<circle cx="483.90" cy="187.80" r="14.50" stroke="#262626" stroke-width="1.2" fill="none"/>
<path d="M486.42,173.52 A14.50,14.50 0 1 0 495.01,197.12" stroke="#262626" stroke-width="2.2" fill="none"/>
<text x="483.30" y="192.68" font-size="12" text-anchor="middle" fill="#2e2e2e" letter-spacing="-0.4">3/8&quot;</text>
<circle cx="533.20" cy="187.80" r="23.30" stroke="#262626" stroke-width="1.1" fill="#fff"/>
<circle cx="533.20" cy="187.80" r="14.50" stroke="#262626" stroke-width="1.2" fill="none"/>
<path d="M535.72,173.52 A14.50,14.50 0 1 0 544.31,197.12" stroke="#262626" stroke-width="2.2" fill="none"/>
<text x="532.60" y="192.68" font-size="12" text-anchor="middle" fill="#2e2e2e" letter-spacing="-0.4">3/8&quot;</text>
<circle cx="582.50" cy="187.80" r="23.30" stroke="#262626" stroke-width="1.1" fill="#fff"/>
<circle cx="582.50" cy="187.80" r="14.50" stroke="#262626" stroke-width="1.2" fill="none"/>
<path d="M585.02,173.52 A14.50,14.50 0 1 0 593.61,197.12" stroke="#262626" stroke-width="2.2" fill="none"/>
<text x="581.90" y="192.68" font-size="12" text-anchor="middle" fill="#2e2e2e" letter-spacing="-0.4">3/8&quot;</text>
<circle cx="385.30" cy="233.90" r="23.30" stroke="#262626" stroke-width="1.1" fill="#fff"/>
<circle cx="385.30" cy="233.90" r="14.50" stroke="#262626" stroke-width="1.2" fill="none"/>
<path d="M387.82,219.62 A14.50,14.50 0 1 0 396.41,243.22" stroke="#262626" stroke-width="2.2" fill="none"/>
<text x="384.70" y="238.78" font-size="12" text-anchor="middle" fill="#2e2e2e" letter-spacing="-0.4">3/8&quot;</text>
<circle cx="434.60" cy="233.90" r="23.30" stroke="#262626" stroke-width="1.1" fill="#fff"/>
<circle cx="434.60" cy="233.90" r="14.50" stroke="#262626" stroke-width="1.2" fill="none"/>
<path d="M437.12,219.62 A14.50,14.50 0 1 0 445.71,243.22" stroke="#262626" stroke-width="2.2" fill="none"/>
<text x="434.00" y="238.78" font-size="12" text-anchor="middle" fill="#2e2e2e" letter-spacing="-0.4">3/8&quot;</text>
<circle cx="483.90" cy="233.90" r="23.30" stroke="#262626" stroke-width="1.1" fill="#fff"/>
<circle cx="483.90" cy="233.90" r="14.50" stroke="#262626" stroke-width="1.2" fill="none"/>
<path d="M486.42,219.62 A14.50,14.50 0 1 0 495.01,243.22" stroke="#262626" stroke-width="2.2" fill="none"/>
<text x="483.30" y="238.78" font-size="12" text-anchor="middle" fill="#2e2e2e" letter-spacing="-0.4">3/8&quot;</text>
<circle cx="533.20" cy="233.90" r="23.30" stroke="#262626" stroke-width="1.1" fill="#fff"/>
<circle cx="533.20" cy="233.90" r="14.50" stroke="#262626" stroke-width="1.2" fill="none"/>
<path d="M535.72,219.62 A14.50,14.50 0 1 0 544.31,243.22" stroke="#262626" stroke-width="2.2" fill="none"/>
<text x="532.60" y="238.78" font-size="12" text-anchor="middle" fill="#2e2e2e" letter-spacing="-0.4">3/8&quot;</text>
<circle cx="582.50" cy="233.90" r="23.30" stroke="#262626" stroke-width="1.1" fill="#fff"/>
<circle cx="582.50" cy="233.90" r="14.50" stroke="#262626" stroke-width="1.2" fill="none"/>
<path d="M585.02,219.62 A14.50,14.50 0 1 0 593.61,243.22" stroke="#262626" stroke-width="2.2" fill="none"/>
<text x="581.90" y="238.78" font-size="12" text-anchor="middle" fill="#2e2e2e" letter-spacing="-0.4">3/8&quot;</text>
<circle cx="343.30" cy="251.50" r="23.20" stroke="#262626" stroke-width="1.1" fill="#fff"/>
<circle cx="343.30" cy="251.50" r="14.60" stroke="#262626" stroke-width="1.2" fill="none"/>
<path d="M345.84,237.12 A14.60,14.60 0 1 0 354.48,260.88" stroke="#262626" stroke-width="2.2" fill="none"/>
<text x="342.70" y="256.38" font-size="12" text-anchor="middle" fill="#2e2e2e" letter-spacing="-0.4">1/2&quot;</text>
<path d="M351.23,229.70 A23.2,23.2 0 1 0 351.23,273.30" stroke="#262626" stroke-width="2" fill="none"/>
<circle cx="624.60" cy="211.10" r="23.10" stroke="#262626" stroke-width="1.1" fill="#fff"/>
<circle cx="624.60" cy="211.10" r="14.80" stroke="#262626" stroke-width="1.2" fill="none"/>
<path d="M627.17,196.52 A14.80,14.80 0 1 0 635.94,220.61" stroke="#262626" stroke-width="2.2" fill="none"/>
<text x="624.00" y="215.98" font-size="12" text-anchor="middle" fill="#2e2e2e" letter-spacing="-0.4">1/2&quot;</text>
<path d="M624.6,188 A23.1,23.1 0 0 1 624.6,234.2" stroke="#262626" stroke-width="2" fill="none"/>
<line x1="624.50" y1="181.50" x2="624.50" y2="188.00" stroke="#262626" stroke-width="1.2" />
<line x1="624.50" y1="234.00" x2="624.50" y2="240.00" stroke="#262626" stroke-width="1.2" />
<line x1="356.50" y1="287.20" x2="356.50" y2="371.60" stroke="#262626" stroke-width="1.2" />
<path d="M356.5,371.5 Q356.5,373.5 359.5,373.5 L362.5,373.5" stroke="#262626" stroke-width="1.2" fill="none"/>
<line x1="610.50" y1="287.20" x2="610.50" y2="372.60" stroke="#262626" stroke-width="1.2" />
<path d="M610.5,372.5 Q610.5,374.5 607.5,374.5" stroke="#262626" stroke-width="1.2" fill="none"/>
<line x1="356.80" y1="363.50" x2="408.60" y2="363.50" stroke="#262626" stroke-width="1.2" />
<path d="M362.5,363.5 L362.5,372.5 Q362.5,374.5 364.5,374.5 L406.5,374.5" stroke="#262626" stroke-width="1.2" fill="none"/>
<line x1="408.50" y1="301.00" x2="408.50" y2="372.60" stroke="#262626" stroke-width="1.2" />
<path d="M408.5,372.5 Q408.5,374.5 406.5,374.5" stroke="#262626" stroke-width="1.2" fill="none"/>
<line x1="392.50" y1="363.60" x2="392.50" y2="374.90" stroke="#262626" stroke-width="1.2" />
<circle cx="385.30" cy="340.40" r="24.00" stroke="#262626" stroke-width="1.1" fill="none"/>
<circle cx="385.30" cy="340.40" r="21.90" stroke="#262626" stroke-width="1.0" fill="none"/>
<circle cx="385.30" cy="340.40" r="11.30" stroke="#262626" stroke-width="1.1" fill="none"/>
<line x1="368.50" y1="340.50" x2="402.30" y2="340.50" stroke="#b87272" stroke-width="1.0" />
<line x1="385.50" y1="324.80" x2="385.50" y2="356.00" stroke="#b87272" stroke-width="1.0" />
<ellipse cx="385.30" cy="340.40" rx="4.9" ry="3.9" stroke="#262626" stroke-width="2.0" fill="none"/>
<line x1="408.60" y1="363.50" x2="457.90" y2="363.50" stroke="#262626" stroke-width="1.2" />
<path d="M411.5,363.5 L411.5,372.5 Q411.5,374.5 413.5,374.5 L455.5,374.5" stroke="#262626" stroke-width="1.2" fill="none"/>
<line x1="457.50" y1="301.00" x2="457.50" y2="372.60" stroke="#262626" stroke-width="1.2" />
<path d="M457.5,372.5 Q457.5,374.5 455.5,374.5" stroke="#262626" stroke-width="1.2" fill="none"/>
<line x1="442.50" y1="363.60" x2="442.50" y2="374.90" stroke="#262626" stroke-width="1.2" />
<circle cx="434.60" cy="340.40" r="24.00" stroke="#262626" stroke-width="1.1" fill="none"/>
<circle cx="434.60" cy="340.40" r="21.90" stroke="#262626" stroke-width="1.0" fill="none"/>
<circle cx="434.60" cy="340.40" r="11.30" stroke="#262626" stroke-width="1.1" fill="none"/>
<line x1="417.80" y1="340.50" x2="451.60" y2="340.50" stroke="#b87272" stroke-width="1.0" />
<line x1="434.50" y1="324.80" x2="434.50" y2="356.00" stroke="#b87272" stroke-width="1.0" />
<ellipse cx="434.60" cy="340.40" rx="4.9" ry="3.9" stroke="#262626" stroke-width="2.0" fill="none"/>
<line x1="457.90" y1="363.50" x2="507.20" y2="363.50" stroke="#262626" stroke-width="1.2" />
<path d="M460.5,363.5 L460.5,372.5 Q460.5,374.5 462.5,374.5 L504.5,374.5" stroke="#262626" stroke-width="1.2" fill="none"/>
<line x1="507.50" y1="301.00" x2="507.50" y2="372.60" stroke="#262626" stroke-width="1.2" />
<path d="M507.5,372.5 Q507.5,374.5 504.5,374.5" stroke="#262626" stroke-width="1.2" fill="none"/>
<line x1="491.50" y1="363.60" x2="491.50" y2="374.90" stroke="#262626" stroke-width="1.2" />
<circle cx="483.90" cy="340.40" r="24.00" stroke="#262626" stroke-width="1.1" fill="none"/>
<circle cx="483.90" cy="340.40" r="21.90" stroke="#262626" stroke-width="1.0" fill="none"/>
<circle cx="483.90" cy="340.40" r="11.30" stroke="#262626" stroke-width="1.1" fill="none"/>
<line x1="467.10" y1="340.50" x2="500.90" y2="340.50" stroke="#b87272" stroke-width="1.0" />
<line x1="483.50" y1="324.80" x2="483.50" y2="356.00" stroke="#b87272" stroke-width="1.0" />
<ellipse cx="483.90" cy="340.40" rx="4.9" ry="3.9" stroke="#262626" stroke-width="2.0" fill="none"/>
<line x1="507.20" y1="363.50" x2="556.50" y2="363.50" stroke="#262626" stroke-width="1.2" />
<path d="M509.5,363.5 L509.5,372.5 Q509.5,374.5 512.5,374.5 L554.5,374.5" stroke="#262626" stroke-width="1.2" fill="none"/>
<line x1="556.50" y1="301.00" x2="556.50" y2="372.60" stroke="#262626" stroke-width="1.2" />
<path d="M556.5,372.5 Q556.5,374.5 554.5,374.5" stroke="#262626" stroke-width="1.2" fill="none"/>
<line x1="540.50" y1="363.60" x2="540.50" y2="374.90" stroke="#262626" stroke-width="1.2" />
<circle cx="533.20" cy="340.40" r="24.00" stroke="#262626" stroke-width="1.1" fill="none"/>
<circle cx="533.20" cy="340.40" r="21.90" stroke="#262626" stroke-width="1.0" fill="none"/>
<circle cx="533.20" cy="340.40" r="11.30" stroke="#262626" stroke-width="1.1" fill="none"/>
<line x1="516.40" y1="340.50" x2="550.20" y2="340.50" stroke="#b87272" stroke-width="1.0" />
<line x1="533.50" y1="324.80" x2="533.50" y2="356.00" stroke="#b87272" stroke-width="1.0" />
<ellipse cx="533.20" cy="340.40" rx="4.9" ry="3.9" stroke="#262626" stroke-width="2.0" fill="none"/>
<line x1="556.50" y1="363.50" x2="610.10" y2="363.50" stroke="#262626" stroke-width="1.2" />
<path d="M559.5,363.5 L559.5,372.5 Q559.5,374.5 561.5,374.5 L607.5,374.5" stroke="#262626" stroke-width="1.2" fill="none"/>
<line x1="594.50" y1="363.60" x2="594.50" y2="374.90" stroke="#262626" stroke-width="1.2" />
<circle cx="582.50" cy="340.40" r="24.00" stroke="#262626" stroke-width="1.1" fill="none"/>
<circle cx="582.50" cy="340.40" r="21.90" stroke="#262626" stroke-width="1.0" fill="none"/>
<circle cx="582.50" cy="340.40" r="11.30" stroke="#262626" stroke-width="1.1" fill="none"/>
<line x1="565.70" y1="340.50" x2="599.50" y2="340.50" stroke="#b87272" stroke-width="1.0" />
<line x1="582.50" y1="324.80" x2="582.50" y2="356.00" stroke="#b87272" stroke-width="1.0" />
<ellipse cx="582.50" cy="340.40" rx="4.9" ry="3.9" stroke="#262626" stroke-width="2.0" fill="none"/>
</svg></body></html>
